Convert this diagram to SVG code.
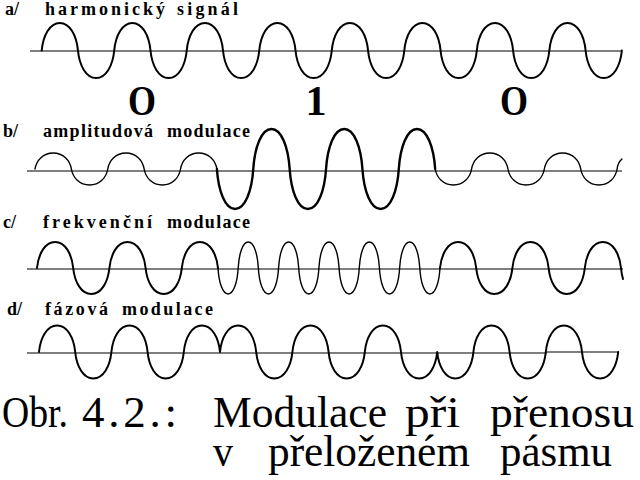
<svg xmlns="http://www.w3.org/2000/svg" width="640" height="480" viewBox="0 0 640 480">
<style>
.ax{stroke:#000;stroke-width:1.1;fill:none}
.w{stroke:#000;stroke-width:2;fill:none;stroke-linejoin:round;stroke-linecap:round}
.thick{stroke-width:2.4}
.thin{stroke-width:1.4}
.lbl{font-family:"Liberation Serif","Times New Roman",serif;font-size:18px;font-weight:bold;fill:#000}
.big{font-family:"Liberation Serif","Times New Roman",serif;font-size:42px;font-weight:bold;fill:#000;text-anchor:middle}
.cap{font-family:"Liberation Serif","Times New Roman",serif;font-size:45px;fill:#000}
</style>
<rect width="640" height="480" fill="#fff"/>

<g id="panel-a">
<text class="lbl" x="5" y="15">a/</text>
<text class="lbl" x="45" y="15" textLength="120" lengthAdjust="spacing">harmonický</text>
<text class="lbl" x="177" y="15" textLength="61" lengthAdjust="spacing">signál</text>
<path class="ax" d="M30,51 H622"/>
<path class="w" d="M41.7,50.5 c1.45,-15.13 8.16,-27.5 18.13,-27.5 s16.68,12.38 18.13,27.5 s8.16,27.5 18.13,27.5 s16.68,-12.38 18.13,-27.5 s8.16,-27.5 18.13,-27.5 s16.68,12.38 18.13,27.5 s8.16,27.5 18.13,27.5 s16.68,-12.38 18.13,-27.5 s8.16,-27.5 18.13,-27.5 s16.68,12.38 18.13,27.5 s8.16,27.5 18.13,27.5 s16.68,-12.38 18.13,-27.5 s8.16,-27.5 18.13,-27.5 s16.68,12.38 18.13,27.5 s8.16,27.5 18.13,27.5 s16.68,-12.38 18.13,-27.5 s8.16,-27.5 18.13,-27.5 s16.68,12.38 18.13,27.5 s8.16,27.5 18.13,27.5 s16.68,-12.38 18.13,-27.5 s8.16,-27.5 18.13,-27.5 s16.68,12.38 18.13,27.5 s8.16,27.5 18.13,27.5 s16.68,-12.38 18.13,-27.5 s8.16,-27.5 18.13,-27.5 s16.68,12.38 18.13,27.5 s8.16,27.5 18.13,27.5 s16.68,-12.38 18.13,-27.5 s8.16,-27.5 18.13,-27.5 s16.68,12.38 18.13,27.5 s8.16,27.5 18.13,27.5 s16.68,-12.38 18.13,-27.5"/>
<text class="big" x="142" y="115" textLength="28" lengthAdjust="spacingAndGlyphs">O</text>
<text class="big" x="316" y="115">1</text>
<text class="big" x="514" y="115" textLength="28" lengthAdjust="spacingAndGlyphs">O</text>
</g>

<g id="panel-b">
<text class="lbl" x="3" y="137">b/</text>
<text class="lbl" x="43" y="137" textLength="110" lengthAdjust="spacing">amplitudová</text>
<text class="lbl" x="167" y="137" textLength="83" lengthAdjust="spacing">modulace</text>
<path class="ax" d="M27,171 H622"/>
<path class="w thin" d="M35,169 c1.46,-8.8 8.19,-16 18.19,-16 s16.73,7.2 18.19,16 s8.19,16 18.19,16 s16.73,-7.2 18.19,-16 s8.19,-16 18.19,-16 s16.73,7.2 18.19,16 s8.19,16 18.19,16 s16.73,-7.2 18.19,-16 s8.19,-16 18.19,-16 s16.73,7.2 18.19,16"/>
<path class="w thick" d="M216.9,169 c1.46,22 8.19,40 18.19,40 s16.73,-18 18.19,-40 s8.19,-40 18.19,-40 s16.73,18 18.19,40 s8.19,40 18.19,40 s16.73,-18 18.19,-40 s8.19,-40 18.19,-40 s16.73,18 18.19,40 s8.19,40 18.19,40 s16.73,-18 18.19,-40 s8.19,-40 18.19,-40 s16.73,18 18.19,40"/>
<path class="w thin" d="M435.2,169 c1.46,8.8 8.19,16 18.19,16 s16.73,-7.2 18.19,-16 s8.19,-16 18.19,-16 s16.73,7.2 18.19,16 s8.19,16 18.19,16 s16.73,-7.2 18.19,-16 s8.19,-16 18.19,-16 s16.73,7.2 18.19,16 s8.19,16 18.19,16 s16.73,-7.2 18.19,-16 c0.3,-3 1.5,-7 4.8,-10"/>
</g>

<g id="panel-c">
<text class="lbl" x="3" y="228">c/</text>
<text class="lbl" x="43" y="228" textLength="109" lengthAdjust="spacing">frekvenční</text>
<text class="lbl" x="167" y="228" textLength="83" lengthAdjust="spacing">modulace</text>
<path class="ax" d="M27,269 H623"/>
<path class="w" d="M37,268 c1.45,-14.3 8.15,-26 18.1,-26 s16.65,11.7 18.1,26 s8.15,26 18.1,26 s16.65,-11.7 18.1,-26 s8.15,-26 18.1,-26 s16.65,11.7 18.1,26 s8.15,26 18.1,26 s16.65,-11.7 18.1,-26 s8.15,-26 18.1,-26 s16.65,11.7 18.1,26"/>
<path class="w thin" d="M218,268 c0.81,14.3 4.54,26 10.09,26 s9.28,-11.7 10.09,-26 s4.54,-26 10.09,-26 s9.28,11.7 10.09,26 s4.54,26 10.09,26 s9.28,-11.7 10.09,-26 s4.54,-26 10.09,-26 s9.28,11.7 10.09,26 s4.54,26 10.09,26 s9.28,-11.7 10.09,-26 s4.54,-26 10.09,-26 s9.28,11.7 10.09,26 s4.54,26 10.09,26 s9.28,-11.7 10.09,-26 s4.54,-26 10.09,-26 s9.28,11.7 10.09,26 s4.54,26 10.09,26 s9.28,-11.7 10.09,-26 s4.54,-26 10.09,-26 s9.28,11.7 10.09,26 s4.54,26 10.09,26 s9.28,-11.7 10.09,-26"/>
<path class="w" d="M440,268 c1.45,-14.3 8.15,-26 18.1,-26 s16.65,11.7 18.1,26 s8.15,26 18.1,26 s16.65,-11.7 18.1,-26 s8.15,-26 18.1,-26 s16.65,11.7 18.1,26 s8.15,26 18.1,26 s16.65,-11.7 18.1,-26 s8.15,-26 18.1,-26 s16.65,11.7 18.1,26 c0.3,3 0.8,7 2,11"/>
</g>

<g id="panel-d">
<text class="lbl" x="7" y="315">d/</text>
<text class="lbl" x="45" y="315" textLength="63" lengthAdjust="spacing">fázová</text>
<text class="lbl" x="122" y="315" textLength="91" lengthAdjust="spacing">modulace</text>
<path class="ax" d="M27,353 H547 M547,352 H618"/>
<path class="w" d="M39,352 c1.45,-14.58 8.15,-26.5 18.1,-26.5 s16.65,11.93 18.1,26.5 s8.15,26.5 18.1,26.5 s16.65,-11.93 18.1,-26.5 s8.15,-26.5 18.1,-26.5 s16.65,11.93 18.1,26.5 s8.15,26.5 18.1,26.5 s16.65,-11.93 18.1,-26.5 s8.15,-26.5 18.1,-26.5 s16.65,11.93 18.1,26.5 c1.45,-14.58 8.15,-26.5 18.1,-26.5 s16.65,11.93 18.1,26.5 s8.15,26.5 18.1,26.5 s16.65,-11.93 18.1,-26.5 s8.15,-26.5 18.1,-26.5 s16.65,11.93 18.1,26.5 s8.15,26.5 18.1,26.5 s16.65,-11.93 18.1,-26.5 s8.15,-26.5 18.1,-26.5 s16.65,11.93 18.1,26.5 s8.15,26.5 18.1,26.5 s16.65,-11.93 18.1,-26.5 c1.45,14.58 8.15,26.5 18.1,26.5 s16.65,-11.93 18.1,-26.5 s8.15,-26.5 18.1,-26.5 s16.65,11.93 18.1,26.5 s8.15,26.5 18.1,26.5 s16.65,-11.93 18.1,-26.5 s8.15,-26.5 18.1,-26.5 s16.65,11.93 18.1,26.5 s8.15,26.5 18.1,26.5 s16.65,-11.93 18.1,-26.5"/>
</g>

<g id="caption">
<text class="cap" x="2" y="427" textLength="66" lengthAdjust="spacingAndGlyphs">Obr.</text>
<text class="cap" x="82" y="427" textLength="95" lengthAdjust="spacing">4.2.:</text>
<text class="cap" x="213" y="427" textLength="174" lengthAdjust="spacingAndGlyphs">Modulace</text>
<text class="cap" x="405" y="427" textLength="55" lengthAdjust="spacingAndGlyphs">při</text>
<text class="cap" x="490" y="427" textLength="144" lengthAdjust="spacingAndGlyphs">přenosu</text>
<text class="cap" x="213" y="466" textLength="20" lengthAdjust="spacingAndGlyphs">v</text>
<text class="cap" x="268" y="466" textLength="202" lengthAdjust="spacingAndGlyphs">přeloženém</text>
<text class="cap" x="500" y="466" textLength="112" lengthAdjust="spacingAndGlyphs">pásmu</text>
</g>
</svg>
